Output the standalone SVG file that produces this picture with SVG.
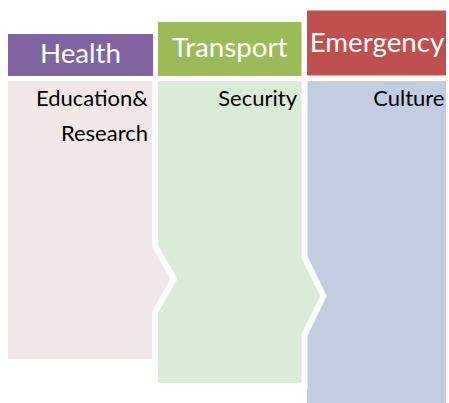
<svg xmlns="http://www.w3.org/2000/svg" width="449" height="403" viewBox="0 0 449 403">
<style>
.hdr{font-family:Lato,"Open Sans","Liberation Sans",sans-serif;font-size:27.7px;fill:#ffffff;text-anchor:middle}
.bt{font-family:Lato,"Open Sans","Liberation Sans",sans-serif;font-size:22px;fill:#000000;text-anchor:end}
.body{stroke:#ffffff;stroke-width:6;stroke-linejoin:miter;stroke-miterlimit:10}
</style>
<rect x="0" y="0" width="449" height="403" fill="#ffffff"/>
<g id="node-emergency">
<rect x="307" y="81" width="139" height="322" fill="#C3CDE2"/>
<rect x="307" y="10.5" width="139" height="65" fill="#C0504D"/>
<text class="hdr" x="377" y="52">Emergency</text>
<text class="bt" x="444.5" y="106">Culture</text>
</g>
<g id="node-transport">
<polygon class="body" points="155,78 304.5,78 304.5,257 323.5,296 304.5,335 304.5,386 155,386" fill="#D9EAD7"/>
<rect x="158" y="22" width="143.5" height="54" fill="#9BBB59"/>
<text class="hdr" x="229.7" y="57">Transport</text>
<text class="bt" x="297" y="106">Security</text>
</g>
<g id="node-health">
<polygon class="body" points="5,78 155,78 155,246 174,279 155,312 155,362 5,362" fill="#F2E7E7"/>
<rect x="8" y="34" width="145" height="42" fill="#8064A2"/>
<text class="hdr" x="80.5" y="62.7">Health</text>
<text class="bt" x="148" y="106">Education&amp;</text>
<text class="bt" x="148" y="140.7">Research</text>
</g>
<g id="connectors"></g>
</svg>
